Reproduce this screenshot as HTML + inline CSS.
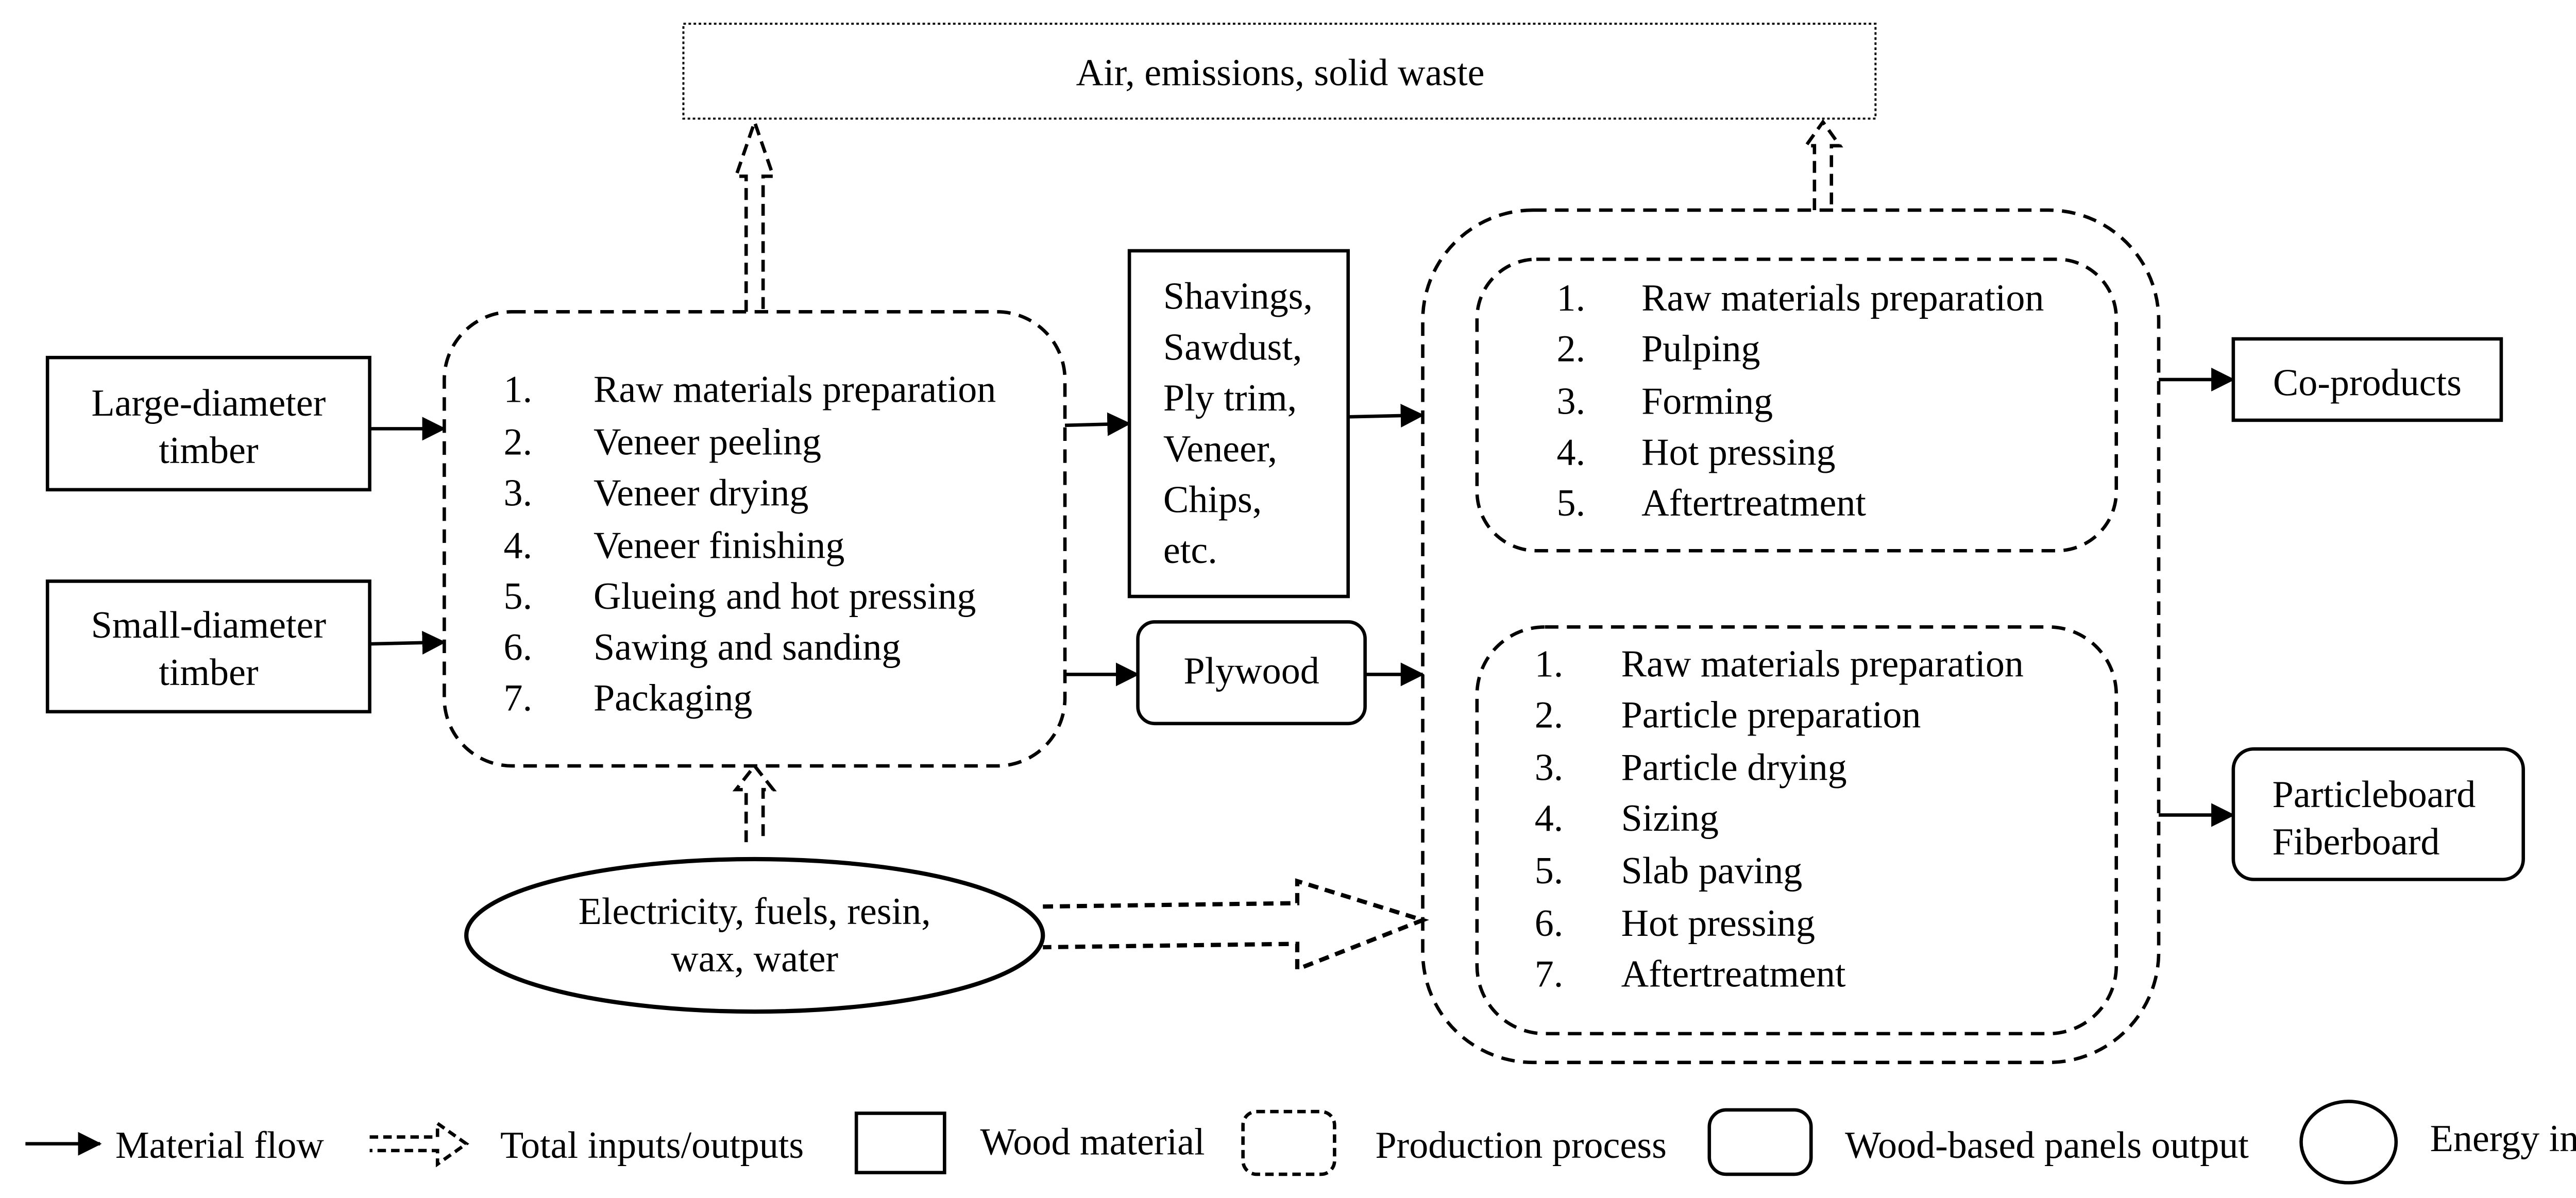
<!DOCTYPE html>
<html><head><meta charset="utf-8"><style>
html,body{margin:0;padding:0;background:#fff;}
svg{display:block;}
text{font-family:"Liberation Serif",serif;font-size:22.5px;fill:#000;}
</style></head><body>
<svg width="5161" height="2326" viewBox="0 0 1568 707" preserveAspectRatio="none" xmlns="http://www.w3.org/2000/svg">
<defs>
<marker id="ah" markerWidth="14" markerHeight="14" refX="13" refY="7" orient="auto" markerUnits="userSpaceOnUse">
<path d="M0,0 L14,7 L0,14 Z" fill="#000"/>
</marker>
</defs>
<g fill="none" stroke="#000">
<rect x="403" y="14" width="703" height="56" stroke-width="1.2" stroke-dasharray="1.5,1.5"/>
<rect x="28" y="211" width="190" height="78" stroke-width="2"/>
<rect x="28" y="343" width="190" height="77" stroke-width="2"/>
<rect x="666" y="148" width="129" height="204" stroke-width="2"/>
<rect x="1317" y="200" width="158" height="48" stroke-width="2"/>
<rect x="671" y="367" width="134" height="60" rx="10" stroke-width="2"/>
<rect x="1317" y="442" width="171" height="77" rx="12" stroke-width="2"/>
<rect x="262" y="184" width="366" height="268" rx="40" stroke-width="2" stroke-dasharray="8,5"/>
<rect x="839" y="124" width="434" height="503" rx="65" stroke-width="2" stroke-dasharray="8,5"/>
<rect x="871" y="153" width="377" height="172" rx="35" stroke-width="2" stroke-dasharray="8,5"/>
<rect x="871" y="370" width="377" height="240" rx="40" stroke-width="2" stroke-dasharray="8,5"/>
<ellipse cx="445" cy="552" rx="170" ry="45" stroke-width="2.5"/>
<path d="M440,184 L440,104 L434,104 L445,72 L456,104 L450,104 L450,184" stroke-width="2" stroke-dasharray="7,4"/>
<path d="M440,497 L440,466 L434,466 L445,452 L456,466 L450,466 L450,497" stroke-width="2" stroke-dasharray="7,4"/>
<path d="M1070,124 L1070,86 L1065,86 L1075,72 L1085,86 L1080,86 L1080,124" stroke-width="2" stroke-dasharray="7,4"/>
<path d="M615,535 L765,533 L765,520 L839,543 L765,572 L765,557 L615,559" stroke-width="2.5" stroke-dasharray="6,4"/>
<g stroke-width="2" marker-end="url(#ah)">
<line x1="218" y1="253" x2="262" y2="253"/>
<line x1="218" y1="380" x2="262" y2="379"/>
<line x1="628" y1="251" x2="666" y2="250"/>
<line x1="628" y1="398" x2="671" y2="398"/>
<line x1="795" y1="246" x2="839" y2="245"/>
<line x1="805" y1="398" x2="839" y2="398"/>
<line x1="1273" y1="224" x2="1317" y2="224"/>
<line x1="1273" y1="481" x2="1317" y2="481"/>
<line x1="15" y1="675" x2="59" y2="675"/>
</g>
<path d="M218,671 L258,671 L258,663 L275,675 L258,687 L258,679 L218,679" stroke-width="2" stroke-dasharray="5,3"/>
<rect x="505" y="657" width="52" height="35" stroke-width="2"/>
<rect x="733" y="656" width="54" height="37" rx="8" stroke-width="2" stroke-dasharray="5,3"/>
<rect x="1008" y="655" width="60" height="38" rx="10" stroke-width="2"/>
<ellipse cx="1385" cy="674" rx="28" ry="24" stroke-width="2"/>
</g>
<g dominant-baseline="central">
<text x="755" y="43" text-anchor="middle">Air, emissions, solid waste</text>
<text x="123" y="238" text-anchor="middle">Large-diameter</text>
<text x="123" y="266" text-anchor="middle">timber</text>
<text x="123" y="369" text-anchor="middle">Small-diameter</text>
<text x="123" y="397" text-anchor="middle">timber</text>
<text x="297" y="230">1.</text><text x="350" y="230">Raw materials preparation</text>
<text x="297" y="261">2.</text><text x="350" y="261">Veneer peeling</text>
<text x="297" y="291">3.</text><text x="350" y="291">Veneer drying</text>
<text x="297" y="322">4.</text><text x="350" y="322">Veneer finishing</text>
<text x="297" y="352">5.</text><text x="350" y="352">Glueing and hot pressing</text>
<text x="297" y="382">6.</text><text x="350" y="382">Sawing and sanding</text>
<text x="297" y="412">7.</text><text x="350" y="412">Packaging</text>
<text x="686" y="175">Shavings,</text>
<text x="686" y="205">Sawdust,</text>
<text x="686" y="235">Ply trim,</text>
<text x="686" y="265">Veneer,</text>
<text x="686" y="295">Chips,</text>
<text x="686" y="325">etc.</text>
<text x="738" y="396" text-anchor="middle">Plywood</text>
<text x="918" y="176">1.</text><text x="968" y="176">Raw materials preparation</text>
<text x="918" y="206">2.</text><text x="968" y="206">Pulping</text>
<text x="918" y="237">3.</text><text x="968" y="237">Forming</text>
<text x="918" y="267">4.</text><text x="968" y="267">Hot pressing</text>
<text x="918" y="297">5.</text><text x="968" y="297">Aftertreatment</text>
<text x="905" y="392">1.</text><text x="956" y="392">Raw materials preparation</text>
<text x="905" y="422">2.</text><text x="956" y="422">Particle preparation</text>
<text x="905" y="453">3.</text><text x="956" y="453">Particle drying</text>
<text x="905" y="483">4.</text><text x="956" y="483">Sizing</text>
<text x="905" y="514">5.</text><text x="956" y="514">Slab paving</text>
<text x="905" y="545">6.</text><text x="956" y="545">Hot pressing</text>
<text x="905" y="575">7.</text><text x="956" y="575">Aftertreatment</text>
<text x="1396" y="226" text-anchor="middle">Co-products</text>
<text x="1340" y="469">Particleboard</text>
<text x="1340" y="497">Fiberboard</text>
<text x="445" y="538" text-anchor="middle">Electricity, fuels, resin,</text>
<text x="445" y="566" text-anchor="middle">wax, water</text>
<text x="68" y="676">Material flow</text>
<text x="295" y="676">Total inputs/outputs</text>
<text x="578" y="674">Wood material</text>
<text x="811" y="676">Production process</text>
<text x="1088" y="676">Wood-based panels output</text>
<text x="1433" y="672">Energy input</text>
</g>
</svg>
</body></html>
